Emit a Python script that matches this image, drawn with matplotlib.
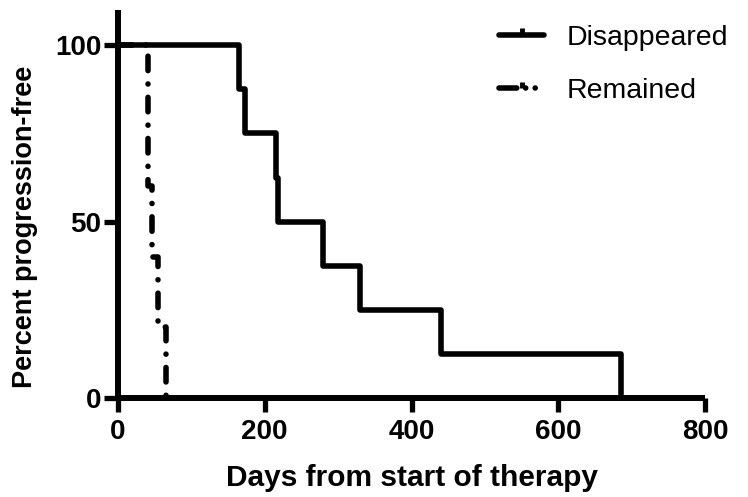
import matplotlib
matplotlib.use("Agg")
import matplotlib.pyplot as plt
from matplotlib.lines import Line2D

# Kaplan-Meier steps
disappeared_days = [0, 165, 173, 215, 218, 280, 330, 440, 685]
disappeared_pct = [100, 87.5, 75, 62.5, 50, 37.5, 25, 12.5, 0]

remained_days = [0, 41, 47, 55, 66]
remained_pct = [100, 60, 40, 20, 0]

series_labels = ["Disappeared", "Remained"]
x_ticks = [0, 200, 400, 600, 800]
y_ticks = [0, 50, 100]

LW = 4.0
REMAINED_DASH = (0, (2.6, 2.4, 0.01, 2.4))

plt.rcParams["font.family"] = ["Liberation Sans", "DejaVu Sans"]

fig = plt.figure(figsize=(7.48, 4.97), dpi=100)
ax = fig.add_axes([118 / 748, 99 / 497, 587 / 748, 388 / 497])

ax.step(disappeared_days, disappeared_pct, where="post", color="black",
        lw=LW, solid_capstyle="butt")
ax.step(remained_days, remained_pct, where="post", color="black",
        lw=LW, linestyle=REMAINED_DASH, dash_capstyle="round")

ax.set_xlim(0, 800)
ax.set_ylim(0, 110)
ax.set_xticks(x_ticks)
ax.set_yticks(y_ticks)

for side in ["top", "right"]:
    ax.spines[side].set_visible(False)
for side in ["left", "bottom"]:
    ax.spines[side].set_linewidth(4.3)
    ax.spines[side].set_capstyle("butt")

ax.tick_params(axis="both", direction="out", length=10, width=3.8,
               labelsize=20)
ax.tick_params(axis="x", pad=5)
ax.tick_params(axis="y", pad=2)
for lbl in ax.get_xticklabels() + ax.get_yticklabels():
    lbl.set_fontweight("bold")

ax.set_xlabel("Days from start of therapy", fontsize=21.5,
              fontweight="bold", labelpad=14)
ax.set_ylabel("Percent progression-free", fontsize=19.5,
              fontweight="bold", labelpad=12, y=0.44)

# legend samples carry a small upward tick like the original software draws
handles = [
    Line2D([], [], color="black", lw=LW, solid_capstyle="round",
           marker=2, markersize=5, markeredgewidth=3.5),
    Line2D([], [], color="black", lw=LW, dash_capstyle="round",
           linestyle=(0, (3.2, 1.6, 0.01, 1.7, 0.01, 3.0)),
           marker=2, markersize=4, markeredgewidth=3.5),
]
ax.legend(handles, series_labels, loc="upper right",
          bbox_to_anchor=(740 / 748, 1 - 14 / 497),
          bbox_transform=fig.transFigure, frameon=False, fontsize=20.5,
          handlelength=1.6, handletextpad=0.8, labelspacing=0.95,
          borderaxespad=0, numpoints=1)

fig.savefig("out.png", dpi=100)
